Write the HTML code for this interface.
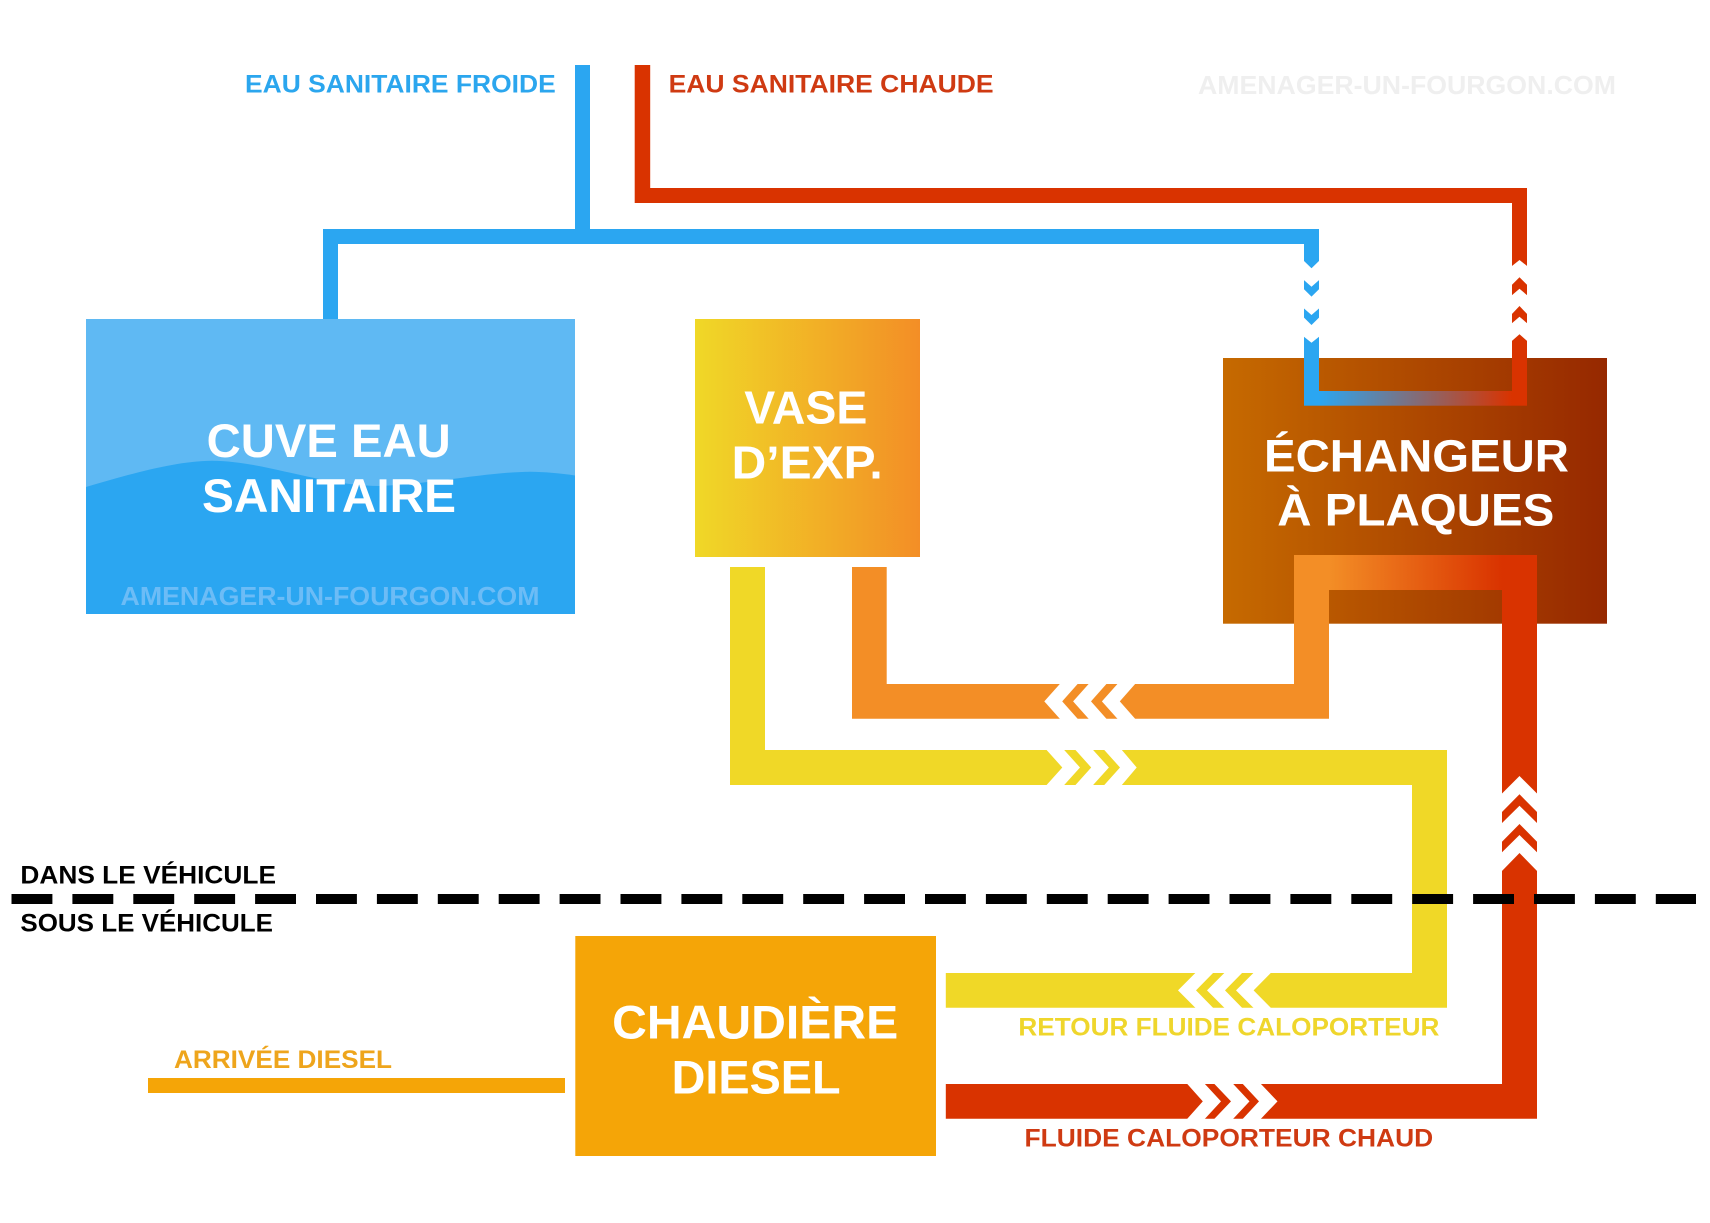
<!DOCTYPE html>
<html lang="fr">
<head>
<meta charset="utf-8">
<title>Schéma chauffage</title>
<style>
html,body{margin:0;padding:0;background:#fff;}
svg{display:block;}
text{font-family:"Liberation Sans",sans-serif;font-weight:700;}
</style>
</head>
<body>
<svg xmlns="http://www.w3.org/2000/svg" width="1710" height="1223" viewBox="0 0 1710 1223">
<defs>
<linearGradient id="gV" x1="0" x2="1" y1="0" y2="0"><stop offset="0" stop-color="#f0d827"/><stop offset="1" stop-color="#f38e26"/></linearGradient>
<linearGradient id="gE" x1="0" x2="1" y1="0" y2="0"><stop offset="0" stop-color="#c66a00"/><stop offset="1" stop-color="#962800"/></linearGradient>
<linearGradient id="gU" gradientUnits="userSpaceOnUse" x1="1319" x2="1512" y1="0" y2="0"><stop offset="0" stop-color="#2ba6f1"/><stop offset="1" stop-color="#d93300"/></linearGradient>
<linearGradient id="gO" gradientUnits="userSpaceOnUse" x1="1329" x2="1502" y1="0" y2="0"><stop offset="0" stop-color="#f38e26"/><stop offset="1" stop-color="#d93300"/></linearGradient>
</defs>
<rect width="1710" height="1223" fill="#fff"/>

<!-- Cold water pipes -->
<path d="M575 65H590V229H1319V345H1304V244H338V319H323V229H575Z" fill="#2ba6f1"/>
<!-- Hot water pipes -->
<path d="M634.7 65H650.2V188H1527V345H1512V203H634.7Z" fill="#d93300"/>

<!-- Tank -->
<rect x="86" y="319" width="489" height="295" fill="#5fb9f3"/>
<path d="M86 487C130 474 175 461 212 460.7C265 461 320 486 381 486C430 484 490 472 530 471.7C545 472 560 473 575 475.5V614H86Z" fill="#2ba6f1"/>
<text x="206.7" y="457" font-size="47" fill="#fff" textLength="244" lengthAdjust="spacingAndGlyphs">CUVE EAU</text>
<text x="202" y="512" font-size="47" fill="#fff" textLength="254" lengthAdjust="spacingAndGlyphs">SANITAIRE</text>
<text x="120.5" y="605" font-size="26" fill="#6cbcf6" textLength="419" lengthAdjust="spacingAndGlyphs">AMENAGER-UN-FOURGON.COM</text>

<!-- Expansion vessel -->
<rect x="695" y="319" width="225" height="238" fill="url(#gV)"/>
<text x="744.3" y="423.3" font-size="46" fill="#fff" textLength="123" lengthAdjust="spacingAndGlyphs">VASE</text>
<text x="731.7" y="478.3" font-size="46" fill="#fff" textLength="151" lengthAdjust="spacingAndGlyphs">D’EXP.</text>

<!-- Exchanger -->
<rect x="1223" y="358" width="384" height="265.7" fill="url(#gE)"/>
<text x="1264" y="471.7" font-size="45" fill="#fff" textLength="305" lengthAdjust="spacingAndGlyphs">ÉCHANGEUR</text>
<text x="1277.3" y="525.7" font-size="45" fill="#fff" textLength="277" lengthAdjust="spacingAndGlyphs">À PLAQUES</text>

<!-- Exchanger inner U (water) -->
<rect x="1304" y="340" width="15" height="65.7" fill="#2ba6f1"/>
<rect x="1512" y="330" width="15" height="75.7" fill="#d93300"/>
<rect x="1319" y="391" width="193" height="14.7" fill="url(#gU)"/>

<!-- Orange pipe -->
<path d="M852 567H886.7V684H1294V555H1329V718.7H852Z" fill="#f38e26"/>
<!-- Exchanger top gradient of fluid circuit -->
<rect x="1294" y="555" width="243" height="35" fill="url(#gO)"/>
<rect x="1294" y="590" width="35" height="10" fill="#f38e26"/>

<!-- Hot fluid pipe -->
<path d="M1502 590H1537V1118.7H945.8V1084H1502Z" fill="#d93300"/>

<!-- Yellow pipe -->
<path d="M730 567H765V750H1447V1007.7H945.8V973H1412V785H730Z" fill="#f0d827"/>

<!-- Boiler -->
<rect x="575.3" y="936" width="360.7" height="220" fill="#f5a507"/>
<text x="612.2" y="1038.3" font-size="47" fill="#fff" textLength="286" lengthAdjust="spacingAndGlyphs">CHAUDIÈRE</text>
<text x="671.6" y="1093.3" font-size="47" fill="#fff" textLength="169" lengthAdjust="spacingAndGlyphs">DIESEL</text>
<rect x="148" y="1078" width="417" height="15" fill="#f5a507"/>

<!-- White chevrons: blue pipe, downward -->
<g fill="#fff">
<polygon points="1303,260 1311.5,268.3 1320,260 1320,279.3 1311.5,286.7 1303,279.3"/>
<polygon points="1303,288.3 1311.5,296.6 1320,288.3 1320,307.6 1311.5,315 1303,307.6"/>
<polygon points="1303,316.6 1311.5,325 1320,316.6 1320,336 1311.5,342.7 1303,336"/>
<!-- red pipe, upward -->
<polygon points="1511,266.7 1519.5,260 1528,266.7 1528,285.7 1519.5,277.3 1511,285.7"/>
<polygon points="1511,296 1519.5,288.7 1528,296 1528,315 1519.5,306 1511,315"/>
<polygon points="1511,324 1519.5,316.7 1528,324 1528,341.7 1519.5,334.3 1511,341.7"/>
<!-- orange, leftward -->
<polygon points="1060.7,683 1044.3,701.35 1060.7,719.7 1078.5,719.7 1062.2,701.35 1078.5,683"/>
<polygon points="1089.5,683 1073.1,701.35 1089.5,719.7 1107.3,719.7 1091,701.35 1107.3,683"/>
<polygon points="1118.3,683 1101.9,701.35 1118.3,719.7 1136,719.7 1119.8,701.35 1136,683"/>
<!-- yellow top, rightward -->
<polygon points="1045.7,749 1062.3,767.5 1045.7,786 1063.3,786 1080,767.5 1063.3,749"/>
<polygon points="1074.6,749 1091.2,767.5 1074.6,786 1092.2,786 1108.9,767.5 1092.2,749"/>
<polygon points="1103.4,749 1120,767.5 1103.4,786 1121,786 1136.7,767.5 1121,749"/>
<!-- yellow bottom, leftward -->
<polygon points="1196.3,972 1178,990.35 1196.3,1008.7 1214,1008.7 1196,990.35 1214,972"/>
<polygon points="1225.3,972 1207,990.35 1225.3,1008.7 1243,1008.7 1225,990.35 1243,972"/>
<polygon points="1254.4,972 1236,990.35 1254.4,1008.7 1271.7,1008.7 1253.6,990.35 1271.7,972"/>
<!-- red bottom, rightward -->
<polygon points="1186.4,1083 1202.8,1101.35 1186.4,1119.7 1204,1119.7 1221,1101.35 1204,1083"/>
<polygon points="1213.5,1083 1231,1101.35 1213.5,1119.7 1232.3,1119.7 1249.5,1101.35 1232.3,1083"/>
<polygon points="1241.9,1083 1259,1101.35 1241.9,1119.7 1260,1119.7 1277.5,1101.35 1260,1083"/>
<!-- red vertical, upward -->
<polygon points="1501,794.5 1519.5,776 1538,794.5 1538,813 1519.5,794.3 1501,813"/>
<polygon points="1501,824 1519.5,805.7 1538,824 1538,842.7 1519.5,824 1501,842.7"/>
<polygon points="1501,853.3 1519.5,835 1538,853.3 1538,872 1519.5,853 1501,872"/>
</g>

<!-- Dashed boundary -->
<line x1="11.5" y1="899" x2="1696" y2="899" stroke="#000" stroke-width="10" stroke-dasharray="40.9 20"/>

<!-- Labels -->
<text x="245" y="92.4" font-size="25" fill="#2ba6ee" textLength="310.7" lengthAdjust="spacingAndGlyphs">EAU SANITAIRE FROIDE</text>
<text x="668.6" y="92.7" font-size="25" fill="#cf3a12" textLength="325" lengthAdjust="spacingAndGlyphs">EAU SANITAIRE CHAUDE</text>
<text x="1198" y="94" font-size="26" fill="#efefef" textLength="418" lengthAdjust="spacingAndGlyphs">AMENAGER-UN-FOURGON.COM</text>
<text x="20.4" y="883.7" font-size="25" fill="#000" textLength="255.6" lengthAdjust="spacingAndGlyphs">DANS LE VÉHICULE</text>
<text x="20.4" y="931.3" font-size="25" fill="#000" textLength="252.6" lengthAdjust="spacingAndGlyphs">SOUS LE VÉHICULE</text>
<text x="174" y="1068" font-size="25" fill="#eea51c" textLength="218" lengthAdjust="spacingAndGlyphs">ARRIVÉE DIESEL</text>
<text x="1018.4" y="1035.7" font-size="25" fill="#efd62c" textLength="421" lengthAdjust="spacingAndGlyphs">RETOUR FLUIDE CALOPORTEUR</text>
<text x="1024.5" y="1146.7" font-size="25" fill="#cf3a12" textLength="408.7" lengthAdjust="spacingAndGlyphs">FLUIDE CALOPORTEUR CHAUD</text>
</svg>
</body>
</html>
